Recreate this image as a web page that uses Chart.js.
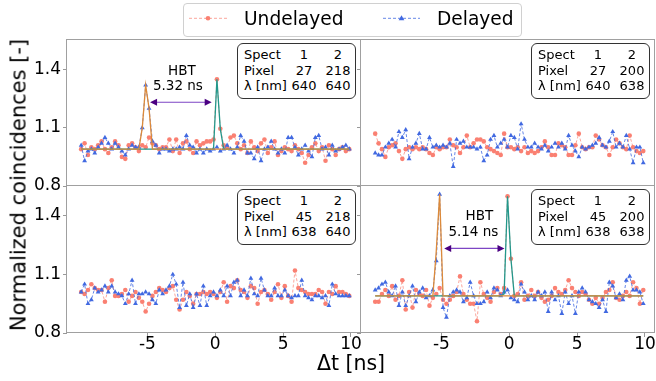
<!DOCTYPE html>
<html>
<head>
<meta charset="utf-8">
<script src="https://cdn.jsdelivr.net/npm/chart.js@4.4.0/dist/chart.umd.min.js"></script>
<style>
    body { margin: 0; background: #fff; }
    #fig { position: relative; width: 656px; height: 381px; overflow: hidden; font-family: 'DejaVu Sans', sans-serif; color: #000; }
    #fig canvas { position: absolute; left: 0; top: 0; }
    .legend { position: absolute; left: 183px; top: 3px; width: 339px; height: 34px; box-sizing: border-box;
              border: 1px solid #d0d0d0; border-radius: 4px; background: rgba(255,255,255,0.85); }
    .legend span { position: absolute; top: 6px; font-size: 18.6px; line-height: 18.6px; white-space: nowrap; }
    .infobox { position: absolute; width: 119px; height: 56px; box-sizing: border-box; border: 1px solid #333;
               border-radius: 6px; background: #fff; font-size: 13px; }
    .infobox span { position: absolute; line-height: 15.4px; white-space: nowrap; }
    .label { position: absolute; white-space: nowrap; line-height: 1; transform: translate(-50%, -50%); }
</style>
</head>
<body>
<div id="fig">
    <div class="legend">
        <svg width="337" height="32" style="position:absolute;left:0;top:0">
            <line x1="5" y1="14.3" x2="43" y2="14.3" stroke="#fa8072" stroke-opacity="0.7" stroke-width="1" stroke-dasharray="3,2"/>
            <circle cx="24" cy="14.3" r="2.3" fill="#fa8072"/>
            <line x1="199" y1="14.3" x2="236" y2="14.3" stroke="#4169e1" stroke-opacity="0.8" stroke-width="1" stroke-dasharray="3,2"/>
            <polygon points="217.5,11.3 220.3,16.2 214.7,16.2" fill="#4169e1"/>
        </svg>
        <span style="left:60px">Undelayed</span>
        <span style="left:253px">Delayed</span>
    </div>
    <div class="label" style="left:18.7px;top:185px;font-size:21px;transform:translate(-50%,-50%) rotate(-90deg)">Normalized coincidences [-]</div>
    <div class="label" style="left:351px;top:363px;font-size:20.5px">Δt [ns]</div>
</div>
<script>
// time bins [ns]
const dt = [
    -9.875, -9.625, -9.375, -9.125, -8.875, -8.625, -8.375, -8.125, -7.875, -7.625,
    -7.375, -7.125, -6.875, -6.625, -6.375, -6.125, -5.875, -5.625, -5.375, -5.125,
    -4.875, -4.625, -4.375, -4.125, -3.875, -3.625, -3.375, -3.125, -2.875, -2.625,
    -2.375, -2.125, -1.875, -1.625, -1.375, -1.125, -0.875, -0.625, -0.375, -0.125,
    0.125, 0.375, 0.625, 0.875, 1.125, 1.375, 1.625, 1.875, 2.125, 2.375,
    2.625, 2.875, 3.125, 3.375, 3.625, 3.875, 4.125, 4.375, 4.625, 4.875,
    5.125, 5.375, 5.625, 5.875, 6.125, 6.375, 6.625, 6.875, 7.125, 7.375,
    7.625, 7.875, 8.125, 8.375, 8.625, 8.875, 9.125, 9.375, 9.625, 9.875
];

const xTicks = [-5, 0, 5, 10];
const yTicks = [0.8, 1.1, 1.4];

// top left: pixel 27 / 218, 640 / 640 nm
const undelayedTL = [
    0.99, 1.02, 0.96, 1.00, 0.99, 1.01, 1.03, 0.99, 0.97, 1.00,
    1.03, 1.01, 0.95, 0.94, 1.01, 1.02, 1.00, 0.98, 1.01, 1.00,
    1.05, 1.02, 1.01, 0.99, 1.00, 1.00, 1.04, 0.98, 1.04, 0.97,
    1.02, 1.03, 0.99, 0.97, 1.03, 1.01, 1.02, 1.03, 1.03, 1.04,
    1.35, 1.095, 1.01, 1.00, 1.05, 1.06, 1.02, 0.99, 1.01, 0.97,
    1.03, 1.00, 0.98, 1.02, 1.04, 0.97, 1.00, 1.03, 0.96, 0.98,
    1.00, 0.99, 0.98, 1.01, 0.99, 0.97, 0.92, 0.96, 1.00, 1.02,
    0.98, 1.00, 0.93, 1.01, 0.99, 0.96, 0.99, 1.00, 0.98, 0.99
];
const delayedTL = [
    1.01, 0.93, 0.98, 0.99, 0.97, 1.00, 1.02, 1.05, 1.02, 0.99,
    1.02, 1.00, 0.98, 0.96, 0.99, 1.01, 1.00, 1.00, 1.10, 1.32,
    1.20, 1.03, 1.01, 0.97, 0.99, 0.99, 0.98, 0.99, 0.99, 1.00,
    0.99, 1.06, 1.01, 1.00, 0.97, 0.99, 0.97, 0.99, 0.98, 0.99,
    1.00, 0.98, 0.99, 1.01, 0.99, 0.97, 1.00, 1.06, 1.03, 0.97,
    0.97, 0.94, 1.00, 0.93, 0.99, 1.00, 1.03, 0.99, 0.97, 0.99,
    0.97, 1.05, 1.05, 1.00, 0.96, 0.99, 1.01, 0.98, 0.95, 1.05,
    1.06, 0.99, 1.00, 0.96, 1.01, 0.98, 0.99, 1.00, 1.01, 0.99
];

// top right: pixel 27 / 200, 640 / 638 nm
const undelayedTR = [
    1.07, 1.02, 0.99, 0.95, 1.00, 1.01, 1.02, 0.98, 0.94, 0.99,
    1.00, 0.99, 1.00, 0.99, 1.00, 0.99, 0.97, 0.96, 1.00, 0.99,
    1.00, 1.00, 1.04, 1.01, 1.00, 0.97, 1.00, 1.06, 1.00, 1.02,
    1.04, 1.04, 1.03, 1.00, 0.99, 0.98, 0.97, 0.96, 1.07, 1.00,
    1.00, 0.99, 1.00, 0.98, 1.00, 0.97, 0.98, 0.97, 0.98, 1.00,
    1.03, 1.00, 0.96, 0.96, 1.02, 1.01, 1.00, 0.96, 0.96, 1.01,
    1.07, 1.00, 0.99, 1.00, 1.00, 1.06, 1.04, 1.01, 1.00, 0.96,
    1.00, 1.04, 1.02, 1.00, 0.99, 1.06, 1.00, 0.98, 0.97, 0.98
];
const delayedTR = [
    0.97, 0.96, 0.96, 1.00, 1.02, 1.04, 1.00, 1.08, 1.05, 1.09,
    0.94, 1.00, 1.02, 1.07, 0.99, 0.99, 1.05, 1.00, 1.01, 1.00,
    1.01, 1.00, 1.02, 0.90, 1.04, 1.02, 1.03, 1.00, 1.00, 1.00,
    0.99, 1.00, 0.93, 0.96, 1.04, 1.06, 1.00, 1.02, 1.04, 1.00,
    1.06, 1.05, 0.99, 1.12, 1.04, 1.00, 1.00, 1.02, 1.00, 0.99,
    1.01, 0.98, 1.00, 1.02, 1.00, 1.02, 0.99, 1.06, 1.01, 0.98,
    0.95, 1.00, 0.99, 1.00, 1.01, 1.02, 1.05, 1.01, 1.00, 1.03,
    1.08, 1.00, 1.02, 1.00, 1.06, 0.99, 0.92, 1.00, 1.00, 0.92
];

// bottom left: pixel 45 / 218, 638 / 640 nm
const undelayedBL = [
    1.01, 1.00, 1.02, 1.05, 1.03, 1.02, 1.02, 0.96, 1.03, 1.07,
    0.99, 0.99, 1.00, 1.02, 0.96, 0.99, 1.01, 0.98, 0.96, 0.91,
    0.95, 0.99, 1.01, 1.03, 1.02, 1.01, 1.03, 1.04, 0.97, 0.92,
    0.97, 1.01, 0.99, 0.95, 1.00, 1.00, 1.01, 1.00, 1.01, 1.00,
    0.98, 1.01, 1.06, 0.96, 1.04, 1.03, 1.07, 1.02, 1.01, 0.98,
    1.04, 1.03, 0.95, 1.01, 1.02, 1.00, 0.97, 1.01, 1.05, 0.98,
    1.04, 0.99, 0.96, 1.12, 1.03, 1.02, 1.01, 1.00, 1.00, 1.00,
    1.02, 1.01, 0.95, 1.01, 1.00, 1.04, 1.01, 1.01, 1.00, 0.99
];
const delayedBL = [
    1.01, 1.05, 0.95, 0.97, 1.03, 1.01, 1.02, 1.04, 1.01, 1.04,
    1.01, 1.00, 0.99, 0.95, 1.00, 1.07, 0.95, 1.00, 1.00, 1.01,
    1.00, 0.97, 0.95, 1.02, 1.00, 1.02, 1.04, 1.10, 1.05, 0.93,
    1.06, 0.94, 1.00, 0.93, 1.00, 0.94, 1.04, 0.94, 0.99, 1.01,
    0.99, 1.02, 0.99, 1.04, 0.99, 1.06, 1.07, 0.99, 1.02, 0.99,
    1.08, 1.00, 0.99, 1.08, 1.02, 0.99, 0.99, 1.03, 0.99, 0.99,
    1.02, 0.99, 0.98, 0.99, 0.99, 1.07, 0.99, 0.98, 0.97, 0.99,
    0.99, 0.98, 0.99, 0.94, 1.05, 1.00, 0.99, 0.99, 0.99, 0.99
];

// bottom right: pixel 45 / 200, 638 / 638 nm
const undelayedBR = [
    0.96, 0.96, 1.00, 1.02, 0.99, 1.04, 0.97, 0.99, 1.07, 0.92,
    1.01, 0.93, 1.02, 1.00, 0.99, 1.02, 0.94, 0.98, 1.00, 1.03,
    0.97, 0.95, 0.97, 0.99, 1.01, 1.09, 1.00, 0.97, 0.95, 0.95,
    0.86, 1.06, 1.00, 0.98, 0.96, 1.01, 1.03, 1.00, 1.03, 1.50,
    1.18, 0.99, 1.00, 1.06, 0.97, 0.99, 1.02, 0.99, 1.01, 0.98,
    0.96, 0.97, 0.99, 1.03, 1.01, 1.00, 1.02, 1.07, 1.03, 1.01,
    0.99, 1.01, 1.00, 0.97, 0.95, 0.98, 0.95, 0.98, 1.01, 1.02,
    1.06, 0.98, 0.97, 0.99, 1.01, 0.99, 1.06, 1.03, 0.95, 1.02
];
const delayedBR = [
    1.02, 1.03, 1.05, 1.06, 1.01, 0.99, 1.04, 0.94, 1.01, 0.94,
    0.99, 1.04, 0.96, 1.01, 1.03, 0.98, 0.99, 1.02, 1.17, 1.51,
    0.93, 0.88, 0.99, 1.01, 1.02, 1.01, 0.96, 0.98, 1.06, 0.99,
    0.95, 0.95, 0.96, 1.01, 0.98, 1.03, 1.02, 0.99, 1.01, 1.02,
    0.98, 0.97, 0.96, 1.05, 1.01, 0.97, 0.99, 0.97, 1.01, 0.99,
    1.01, 0.91, 1.01, 0.97, 0.99, 0.90, 1.01, 0.95, 0.99, 0.90,
    1.01, 1.03, 1.01, 0.97, 0.96, 0.95, 0.93, 0.97, 0.91, 1.06,
    1.04, 0.98, 1.00, 0.97, 1.07, 1.09, 1.02, 1.02, 1.01, 0.95
];

// peak fits (only the two panels with an HBT signal)
const fitDelayedTL_t = [-9.875, -5.625, -5.375, -5.125, -4.875, -4.625, 9.875];
const fitDelayedTL_y = [0.99, 0.99, 1.10, 1.32, 1.20, 0.99, 0.99];
const fitUndelayedTL_t = [-9.875, -0.125, 0.125, 0.375, 0.625, 9.875];
const fitUndelayedTL_y = [0.99, 0.99, 1.35, 1.095, 0.99, 0.99];
const fitDelayedBR_t = [-9.875, -5.625, -5.375, -5.125, -4.875, 9.875];
const fitDelayedBR_y = [0.99, 0.99, 1.22, 1.51, 0.99, 0.99];
const fitUndelayedBR_t = [-9.875, -0.625, -0.375, -0.125, 0.125, 0.375, 9.875];
const fitUndelayedBR_y = [0.99, 0.99, 1.00, 1.50, 1.18, 0.99, 0.99];

const boxRows = ['Spect', 'Pixel', 'λ [nm]'];
const spect = ['1', '2'];
const pixelTL = ['27', '218'], lambdaTL = ['640', '640'];
const pixelTR = ['27', '200'], lambdaTR = ['640', '638'];
const pixelBL = ['45', '218'], lambdaBL = ['638', '640'];
const pixelBR = ['45', '200'], lambdaBR = ['638', '638'];

const hbtLabels = ['5.32 ns', '5.14 ns'];

const X_MIN = -10.92, X_MAX = 10.74;
const Y_MIN = 0.8, Y_MAX = 1.553;
const W = 700, H = 420, X_AXIS_H = 30;

Chart.defaults.font.family = "'DejaVu Sans', sans-serif";
Chart.defaults.font.size = 17;
Chart.defaults.color = '#000';

const fig = document.getElementById('fig');

function pts(xs, ys) {
    return xs.map((x, i) => ({ x: x, y: ys[i] }));
}

// matplotlib-like spines on all four sides
const spinePlugin = {
    id: 'spines',
    afterDatasetsDraw(chart) {
        const a = chart.chartArea, ctx = chart.ctx;
        ctx.save();
        ctx.strokeStyle = '#a0a0a0';
        ctx.lineWidth = 1;
        ctx.strokeRect(a.left - 0.5, a.top - 0.5, a.right - a.left, a.bottom - a.top);
        ctx.restore();
    }
};

// double headed HBT arrow, placed in data coordinates
function arrowPlugin(hbt) {
    return {
        id: 'hbtArrow',
        afterDatasetsDraw(chart) {
            if (!hbt) return;
            const xs = chart.scales.x, ys = chart.scales.y, ctx = chart.ctx;
            const x1 = xs.getPixelForValue(hbt.from);
            const x2 = xs.getPixelForValue(hbt.to);
            const y = ys.getPixelForValue(hbt.y);
            ctx.save();
            ctx.strokeStyle = '#7d45c4';
            ctx.lineWidth = 1.2;
            ctx.beginPath();
            ctx.moveTo(x1 + 5, y);
            ctx.lineTo(x2 - 5, y);
            ctx.stroke();
            ctx.fillStyle = '#4b0082';
            [[x1, 1], [x2, -1]].forEach(([x, d]) => {
                ctx.beginPath();
                ctx.moveTo(x, y);
                ctx.lineTo(x + d * 7, y - 3.5);
                ctx.lineTo(x + d * 7, y + 3.5);
                ctx.closePath();
                ctx.fill();
            });
            ctx.restore();
        }
    };
}

function addInfoBox(area, pixel, lambda) {
    const box = document.createElement('div');
    box.className = 'infobox';
    box.style.left = (area[2] - 124) + 'px';
    box.style.top = (area[1] + 3) + 'px';
    const cols = [spect, pixel, lambda];
    boxRows.forEach((name, i) => {
        const top = 3.3 + 15.35 * i;
        const s = document.createElement('span');
        s.textContent = name;
        s.style.left = '6px';
        s.style.top = top + 'px';
        box.appendChild(s);
        [66, 100].forEach((cx, j) => {
            const v = document.createElement('span');
            v.textContent = cols[i][j];
            v.style.left = cx + 'px';
            v.style.top = top + 'px';
            v.style.transform = 'translateX(-50%)';
            box.appendChild(v);
        });
    });
    fig.appendChild(box);
}

function addLabel(text, x, y, size) {
    const d = document.createElement('div');
    d.className = 'label';
    d.textContent = text;
    d.style.left = x + 'px';
    d.style.top = y + 'px';
    d.style.fontSize = size + 'px';
    fig.appendChild(d);
}

function buildPanel(p) {
    const cv = document.createElement('canvas');
    cv.width = W;
    cv.height = H;
    fig.insertBefore(cv, fig.firstChild);
    const [l, t, r, b] = p.area;

    const datasets = [];
    if (p.fits) {
        datasets.push({
            data: pts(p.fits[0], p.fits[1]), borderColor: '#dc8a3a', borderWidth: 1.3,
            pointRadius: 0, order: 0
        });
        datasets.push({
            data: pts(p.fits[2], p.fits[3]), borderColor: '#23988b', borderWidth: 1.3,
            pointRadius: 0, order: 1
        });
    }
    datasets.push({
        label: 'Delayed', data: pts(dt, p.del), order: 2,
        borderColor: 'rgba(65,105,225,0.8)', borderWidth: 1, borderDash: [3, 2],
        pointStyle: 'triangle', pointRadius: 2.8, pointBackgroundColor: '#4169e1', pointBorderWidth: 0
    });
    datasets.push({
        label: 'Undelayed', data: pts(dt, p.und), order: 3,
        borderColor: 'rgba(250,128,114,0.7)', borderWidth: 1, borderDash: [3, 2],
        pointStyle: 'circle', pointRadius: 2.3, pointBackgroundColor: '#fa8072', pointBorderWidth: 0
    });

    const chart = new Chart(cv, {
        type: 'line',
        data: { datasets: datasets },
        options: {
            responsive: false,
            animation: false,
            events: [],
            layout: {
                padding: {
                    left: p.showY ? 0 : l - 4,
                    top: t,
                    right: W - r,
                    bottom: H - b - (p.showX ? X_AXIS_H : 0)
                }
            },
            scales: {
                x: {
                    type: 'linear', min: X_MIN, max: X_MAX, display: p.showX,
                    afterBuildTicks: s => { s.ticks = xTicks.map(v => ({ value: v })); },
                    afterFit: s => { s.height = p.showX ? X_AXIS_H : 0; },
                    grid: { drawOnChartArea: false, tickLength: 4, color: '#999' },
                    border: { display: false },
                    ticks: { padding: -3, maxRotation: 0, autoSkip: false }
                },
                y: {
                    type: 'linear', min: Y_MIN, max: Y_MAX,
                    afterBuildTicks: s => { s.ticks = yTicks.map(v => ({ value: v })); },
                    afterFit: s => { s.width = p.showY ? l : 4; },
                    grid: { drawOnChartArea: false, tickLength: 4, color: '#999' },
                    border: { display: false },
                    ticks: { display: p.showY, padding: 2 }
                }
            },
            plugins: { legend: { display: false }, tooltip: { enabled: false } }
        },
        plugins: [spinePlugin, arrowPlugin(p.hbt)]
    });

    addInfoBox(p.area, p.pixel, p.lambda);

    if (p.hbt) {
        const xs = chart.scales.x, ys = chart.scales.y;
        addLabel('HBT', xs.getPixelForValue(p.hbt.textX[0]), ys.getPixelForValue(p.hbt.textY[0]), 13.5);
        addLabel(p.hbt.label, xs.getPixelForValue(p.hbt.textX[1]), ys.getPixelForValue(p.hbt.textY[1]), 13.5);
    }
    return chart;
}

const panels = [
    {
        area: [67, 40, 361, 186], showX: false, showY: true,
        und: undelayedTL, del: delayedTL, pixel: pixelTL, lambda: lambdaTL,
        fits: [fitDelayedTL_t, fitDelayedTL_y, fitUndelayedTL_t, fitUndelayedTL_y],
        hbt: { from: -4.8, to: -0.26, y: 1.232, label: hbtLabels[0], textX: [-2.45, -2.75], textY: [1.395, 1.318] }
    },
    {
        area: [361, 40, 655, 186], showX: false, showY: false,
        und: undelayedTR, del: delayedTR, pixel: pixelTR, lambda: lambdaTR
    },
    {
        area: [67, 186, 361, 333], showX: true, showY: true,
        und: undelayedBL, del: delayedBL, pixel: pixelBL, lambda: lambdaBL
    },
    {
        area: [361, 186, 655, 333], showX: true, showY: false,
        und: undelayedBR, del: delayedBR, pixel: pixelBR, lambda: lambdaBR,
        fits: [fitDelayedBR_t, fitDelayedBR_y, fitUndelayedBR_t, fitUndelayedBR_y],
        hbt: { from: -4.79, to: -0.35, y: 1.233, label: hbtLabels[1], textX: [-2.2, -2.64], textY: [1.398, 1.319] }
    }
];

panels.forEach(buildPanel);
</script>
</body>
</html>
